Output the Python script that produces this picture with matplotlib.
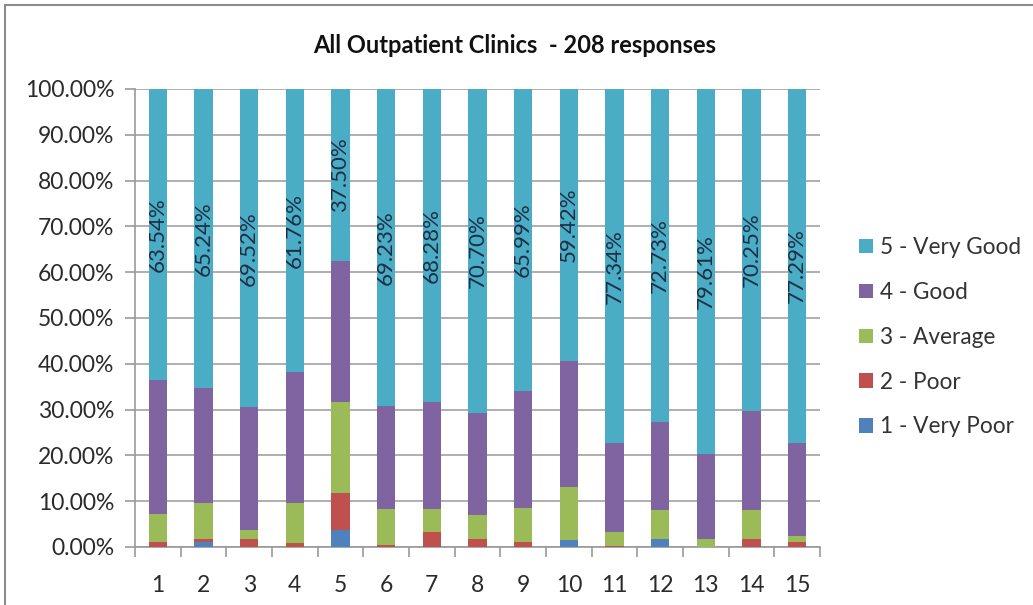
import numpy as np
import matplotlib
matplotlib.use("Agg")
import matplotlib.pyplot as plt
from matplotlib.patches import Rectangle

plt.rcParams['font.family'] = ['Lato', 'DejaVu Sans']

clinics = [str(i) for i in range(1, 16)]
very_poor = [0, 1.0, 0, 0, 3.6, 0, 0, 0, 0, 1.5, 0, 1.7, 0, 0, 0]
poor = [1.0, 0.8, 1.8, 0.9, 8.2, 0.5, 3.3, 1.7, 1.0, 0, 0.3, 0, 0, 1.7, 1.0]
average = [6.1, 7.7, 1.8, 8.6, 19.9, 7.7, 4.9, 5.2, 7.5, 11.6, 3.0, 6.3, 1.8, 6.3, 1.3]
good = [29.36, 25.26, 26.88, 28.74, 30.8, 22.57, 23.52, 22.4, 25.51, 27.48,
        19.36, 19.27, 18.59, 21.75, 20.41]
very_good = [63.54, 65.24, 69.52, 61.76, 37.50, 69.23, 68.28, 70.70, 65.99, 59.42,
             77.34, 72.73, 79.61, 70.25, 77.29]

series = [
    ("1 - Very Poor", very_poor, "#4f81bd"),
    ("2 - Poor", poor, "#c0504d"),
    ("3 - Average", average, "#9bbb59"),
    ("4 - Good", good, "#8064a2"),
    ("5 - Very Good", very_good, "#4bacc6"),
]

fig = plt.figure(figsize=(10.33, 6.05), dpi=100)
ax = fig.add_axes([0.1307, 0.0959, 0.6631, 0.757])

# chart border like the excel chart area
fig.patches.append(Rectangle((5 / 1033, -0.1), 1.2, 1.1 - 5 / 605, transform=fig.transFigure,
                             fill=False, edgecolor="#8c8c8c", linewidth=1.5))

x = np.arange(1, 16)
bottom = np.zeros(15)
handles = []
for name, vals, color in series:
    vals = np.array(vals)
    b = ax.bar(x, vals, 0.4, bottom=bottom, color=color, label=name, zorder=3)
    handles.append(b)
    # only the top segment gets value labels
    if name.startswith("5"):
        for xi, bo, v in zip(x, bottom, vals):
            ax.text(xi, bo + v / 2, f"{v:.2f}%", rotation=90, ha="center", va="center",
                    fontsize=16, color="#1c2f45", zorder=4)
    bottom += vals

ax.set_xlim(0.5, 15.5)
ax.set_ylim(0, 100)
ax.set_yticks(np.arange(0, 101, 10))
ax.set_yticklabels([f"{v:.2f}%" for v in np.arange(0, 101, 10)])
ax.set_xticks(x)
ax.set_xticklabels(clinics)
ax.set_xticks(np.arange(0.5, 16, 1), minor=True)
ax.tick_params(axis="x", which="major", length=0, pad=20, labelsize=16.5, labelcolor="#2a2a2a")
ax.tick_params(axis="x", which="minor", length=7, color="#9a9a9a", width=1.2)
ax.tick_params(axis="y", length=7, color="#9a9a9a", width=1.2, labelsize=16.5, labelcolor="#2a2a2a", pad=8)
ax.grid(axis="y", color="#a8a8a8", linewidth=1.3, zorder=0)
ax.set_axisbelow(True)
for s in ["top", "right"]:
    ax.spines[s].set_visible(False)
for s in ["left", "bottom"]:
    ax.spines[s].set_color("#9a9a9a")
    ax.spines[s].set_linewidth(1.2)

fig.text(0.4985, 0.924, "All Outpatient Clinics  - 208 responses", ha="center", va="center",
         fontsize=17, fontweight="bold", color="#111111")

leg = fig.legend(handles[::-1], [s[0] for s in series][::-1], loc="center left",
                 bbox_to_anchor=(0.832, 0.4425), frameon=False, fontsize=16.3,
                 handlelength=0.6, handleheight=0.6, handletextpad=0.3, labelspacing=1.05,
                 borderaxespad=0, borderpad=0)
for t in leg.get_texts():
    t.set_color("#333333")

fig.savefig("out.png", dpi=100)
